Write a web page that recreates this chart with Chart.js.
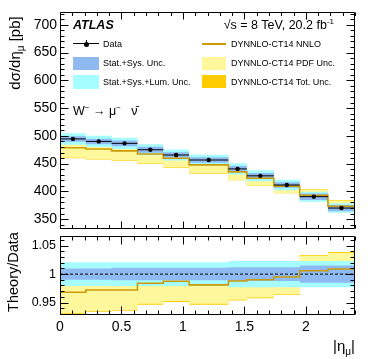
<!DOCTYPE html>
<html>
<head>
<meta charset="utf-8">
<script src="https://cdn.jsdelivr.net/npm/chart.js@4.4.0/dist/chart.umd.min.js"></script>
<style>
  body { margin: 0; background: #fff; }
  #wrap { position: relative; width: 374px; height: 359px; overflow: hidden; background: #fff;
          font-family: "Liberation Sans", Arial, sans-serif; color: #000; }
  canvas { position: absolute; left: 0; }
  .t { position: absolute; white-space: nowrap; line-height: 12px; }
  .leg { font-size: 9px; }
  .box { position: absolute; }
  sub, sup { line-height: 0; }
</style>
</head>
<body>
<div id="wrap">
  <canvas id="mainChart" width="374" height="240" style="top:0"></canvas>
  <canvas id="ratioChart" width="374" height="135" style="top:224px"></canvas>

  <!-- axis titles -->
  <div class="t" style="left:15px;top:53px;font-size:15px;transform:translate(-50%,-50%) rotate(-90deg);">dσ/dη<sub style="font-size:10px">μ</sub> [pb]</div>
  <div class="t" style="left:13px;top:272px;font-size:14.5px;transform:translate(-50%,-50%) rotate(-90deg);">Theory/Data</div>
  <div class="t" style="right:19px;top:340px;font-size:15px;">|η<sub style="font-size:10px">μ</sub>|</div>

  <!-- labels -->
  <div class="t" style="left:73px;top:19px;font-size:12.5px;font-weight:bold;font-style:italic;">ATLAS</div>
  <div class="t" style="right:40px;top:19px;font-size:12.5px;">√s = 8 TeV, 20.2 fb<sup style="font-size:8px">-1</sup></div>
  <div class="t" style="left:73px;top:105px;font-size:12.5px;">W<sup style="font-size:8px">−</sup> → μ<sup style="font-size:8px">−</sup>&nbsp;&nbsp; ν̄</div>

  <!-- legend, left column -->
  <div class="box" style="left:73px;top:43px;width:26px;height:1px;background:#000;"></div>
  <div class="box" style="left:86px;top:40px;width:1px;height:7px;background:#000;"></div>
  <div class="box" style="left:84px;top:42px;width:5px;height:5px;border-radius:50%;background:#000;"></div>
  <div class="t leg" style="left:103px;top:38px;">Data</div>
  <div class="box" style="left:73px;top:57px;width:26px;height:13px;background:#8fbaf1;"></div>
  <div class="t leg" style="left:103px;top:57px;">Stat.+Sys. Unc.</div>
  <div class="box" style="left:73px;top:75px;width:26px;height:14px;background:#a6fdff;"></div>
  <div class="t leg" style="left:103px;top:76px;">Stat.+Sys.+Lum. Unc.</div>

  <!-- legend, right column -->
  <div class="box" style="left:202px;top:43px;width:24px;height:1.5px;background:#cc9a06;"></div>
  <div class="t leg" style="left:231px;top:38px;">DYNNLO-CT14 NNLO</div>
  <div class="box" style="left:202px;top:57px;width:24px;height:13px;background:#fff79c;"></div>
  <div class="t leg" style="left:231px;top:57px;">DYNNLO-CT14 PDF Unc.</div>
  <div class="box" style="left:202px;top:75px;width:24px;height:13px;background:#ffcc00;"></div>
  <div class="t leg" style="left:231px;top:76px;">DYNNLO-CT14 Tot. Unc.</div>
</div>

<script>
// |eta| bin edges and values
const binEdges = [0, 0.21, 0.42, 0.63, 0.84, 1.05, 1.37, 1.52, 1.74, 1.95, 2.18, 2.4];
const xsecData = [494.5, 490, 486.5, 475, 465.5, 456.5, 440.5, 428, 411.5, 390.5, 370];
const theoryOverData = [0.968, 0.972, 0.972, 0.984, 0.9875, 0.981, 0.988, 0.99, 0.995, 1.006, 1.009];
// relative uncertainties (theory: down / up)
const pdfDown = [0.038, 0.038, 0.036, 0.037, 0.0355, 0.034, 0.0335, 0.0315, 0.030, 0.026, 0.028];
const pdfUp = [0.036, 0.035, 0.035, 0.034, 0.031, 0.033, 0.031, 0.029, 0.024, 0.026, 0.028];
const totDown = [0.0395, 0.0395, 0.0375, 0.0385, 0.037, 0.0355, 0.035, 0.033, 0.0315, 0.0275, 0.0295];
const totUp = [0.0375, 0.0365, 0.0365, 0.0355, 0.0325, 0.0345, 0.0325, 0.0305, 0.0255, 0.0275, 0.0295];
const statSysUnc = [0.010, 0.010, 0.011, 0.011, 0.011, 0.011, 0.012, 0.012, 0.012, 0.015, 0.015];
const statSysLumUnc = [0.021, 0.021, 0.021, 0.021, 0.021, 0.021, 0.023, 0.023, 0.023, 0.023, 0.023];
// tick labels
const xsecTicks = [350, 400, 450, 500, 550, 600, 650, 700];
const ratioTicks = [0.95, 1, 1.05];
const etaTicks = [0, 0.5, 1, 1.5, 2];

const BLUE = '#8fbaf1', CYAN = '#a6fdff', YELLOW = '#fff79c', ORANGE = '#ffcc00', GOLD = '#cc9a06';

Chart.defaults.font.family = '"Liberation Sans", Arial, sans-serif';
Chart.defaults.color = '#000';

// points at each bin's left edge + closing point at last edge (stepped: 'before')
function stepPts(vals) {
  const pts = vals.map((v, i) => ({ x: binEdges[i], y: v }));
  pts.push({ x: binEdges[binEdges.length - 1], y: vals[vals.length - 1] });
  return pts;
}

// horizontal bar across each bin, broken between bins
function binBars(vals) {
  const pts = [];
  vals.forEach((v, i) => {
    pts.push({ x: binEdges[i], y: v }, { x: binEdges[i + 1], y: v }, { x: binEdges[i + 1], y: null });
  });
  return pts;
}

function band(lo, hi, color, order) {
  return [
    { data: stepPts(lo), stepped: true, borderWidth: 0, pointRadius: 0, fill: false, order },
    { data: stepPts(hi), stepped: true, borderWidth: 0, pointRadius: 0, fill: '-1', backgroundColor: color, order },
  ];
}

const frameTicks = {
  id: 'frameTicks',
  afterDatasetsDraw(chart, args, o) {
    const { ctx, chartArea: a, scales: { x, y } } = chart;
    const L = Math.round(a.left) + 0.5, R = Math.round(a.right) - 0.5;
    const T = Math.round(a.top) + 0.5, B = Math.round(a.bottom) - 0.5;
    const minors = (s, step) => {
      const out = [];
      for (let k = Math.ceil(s.min / step - 1e-6); k * step <= s.max + 1e-9; k++) out.push(k * step);
      return out;
    };
    ctx.save();
    ctx.strokeStyle = '#000';
    ctx.lineWidth = 1;
    ctx.beginPath();
    ctx.rect(L, T, R - L, B - T);
    const xt = (v, len) => {
      const p = Math.round(x.getPixelForValue(v)) + 0.5;
      ctx.moveTo(p, B); ctx.lineTo(p, B - len);
      ctx.moveTo(p, T); ctx.lineTo(p, T + len);
    };
    const yt = (v, len) => {
      const p = Math.round(y.getPixelForValue(v)) + 0.5;
      ctx.moveTo(L, p); ctx.lineTo(L + len, p);
      ctx.moveTo(R, p); ctx.lineTo(R - len, p);
    };
    minors(x, o.xMinor).forEach(v => xt(v, o.xLen[1]));
    x.ticks.forEach(t => xt(t.value, o.xLen[0]));
    minors(y, o.yMinor).forEach(v => yt(v, o.yLen[1]));
    y.ticks.forEach(t => yt(t.value, o.yLen[0]));
    ctx.stroke();
    ctx.restore();
  }
};

const fmt = v => String(Number(Number(v).toFixed(3)));

// ---------- upper panel ----------
const theory = xsecData.map((d, i) => d * theoryOverData[i]);

new Chart(document.getElementById('mainChart'), {
  type: 'line',
  data: {
    datasets: [
      ...band(theory.map((t, i) => t * (1 - totDown[i])), theory.map((t, i) => t * (1 + totUp[i])), ORANGE, 8),
      ...band(theory.map((t, i) => t * (1 - pdfDown[i])), theory.map((t, i) => t * (1 + pdfUp[i])), YELLOW, 7),
      ...band(xsecData.map((d, i) => d * (1 - statSysLumUnc[i])), xsecData.map((d, i) => d * (1 + statSysLumUnc[i])), CYAN, 6),
      ...band(xsecData.map((d, i) => d * (1 - statSysUnc[i])), xsecData.map((d, i) => d * (1 + statSysUnc[i])), BLUE, 5),
      { data: stepPts(theory), stepped: true, borderColor: GOLD, borderWidth: 1.6, pointRadius: 0, fill: false, order: 3 },
      { data: binBars(xsecData), borderColor: '#000', borderWidth: 1, pointRadius: 0, fill: false, spanGaps: false, order: 2 },
      {
        data: xsecData.map((d, i) => ({ x: (binEdges[i] + binEdges[i + 1]) / 2, y: d })),
        showLine: false, pointRadius: 2.2, pointBackgroundColor: '#000', pointBorderWidth: 0, order: 1
      },
    ]
  },
  options: {
    responsive: false,
    animation: false,
    devicePixelRatio: 1,
    layout: { padding: { left: 0, right: 19, top: 12, bottom: 8 } },
    scales: {
      x: {
        type: 'linear', display: false,
        min: binEdges[0], max: binEdges[binEdges.length - 1],
        afterBuildTicks: s => { s.ticks = etaTicks.map(v => ({ value: v })); },
      },
      y: {
        type: 'linear', min: 333, max: 723,
        grid: { display: false, drawTicks: false },
        border: { display: false },
        afterBuildTicks: s => { s.ticks = xsecTicks.map(v => ({ value: v })); },
        afterFit: s => { s.width = 60; },
        ticks: { padding: 3, font: { size: 14 }, callback: fmt },
      },
    },
    plugins: {
      legend: { display: false },
      tooltip: { enabled: false },
      frameTicks: { xMinor: 0.1, yMinor: 10, xLen: [7, 3.5], yLen: [8, 4] },
    },
  },
  plugins: [frameTicks],
});

// ---------- ratio panel ----------
new Chart(document.getElementById('ratioChart'), {
  type: 'line',
  data: {
    datasets: [
      ...band(theoryOverData.map((r, i) => r * (1 - totDown[i])), theoryOverData.map((r, i) => r * (1 + totUp[i])), ORANGE, 8),
      ...band(theoryOverData.map((r, i) => r * (1 - pdfDown[i])), theoryOverData.map((r, i) => r * (1 + pdfUp[i])), YELLOW, 7),
      ...band(statSysLumUnc.map(u => 1 - u), statSysLumUnc.map(u => 1 + u), CYAN, 6),
      ...band(statSysUnc.map(u => 1 - u), statSysUnc.map(u => 1 + u), BLUE, 5),
      {
        data: [{ x: binEdges[0], y: 1 }, { x: binEdges[binEdges.length - 1], y: 1 }],
        borderColor: '#000', borderWidth: 1, borderDash: [3, 2], pointRadius: 0, fill: false, order: 2
      },
      { data: stepPts(theoryOverData), stepped: true, borderColor: GOLD, borderWidth: 1.6, pointRadius: 0, fill: false, order: 1 },
    ]
  },
  options: {
    responsive: false,
    animation: false,
    devicePixelRatio: 1,
    layout: { padding: { left: 0, right: 19, top: 8, bottom: 0 } },
    scales: {
      x: {
        type: 'linear',
        min: binEdges[0], max: binEdges[binEdges.length - 1],
        grid: { display: false, drawTicks: false },
        border: { display: false },
        afterBuildTicks: s => { s.ticks = etaTicks.map(v => ({ value: v })); },
        afterFit: s => { s.height = 44; },
        ticks: { padding: 4, font: { size: 14 }, maxRotation: 0, callback: fmt },
      },
      y: {
        type: 'linear', min: 0.928, max: 1.068,
        grid: { display: false, drawTicks: false },
        border: { display: false },
        afterBuildTicks: s => { s.ticks = ratioTicks.map(v => ({ value: v })); },
        afterFit: s => { s.width = 60; },
        ticks: { padding: 4, font: { size: 12.5 }, callback: fmt },
      },
    },
    plugins: {
      legend: { display: false },
      tooltip: { enabled: false },
      frameTicks: { xMinor: 0.1, yMinor: 0.01, xLen: [8, 4], yLen: [8, 4] },
    },
  },
  plugins: [frameTicks],
});
</script>
</body>
</html>
